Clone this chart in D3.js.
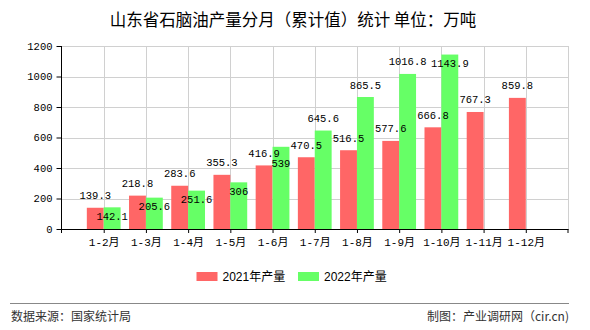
<!DOCTYPE html>
<html><head><meta charset="utf-8">
<script src="https://cdn.jsdelivr.net/npm/d3@7/dist/d3.min.js"></script>
<style>
html,body{margin:0;padding:0;background:#fff;}
svg{display:block;}
</style></head>
<body><div id="chart"></div>
<script>
const categories = ["1-2月","1-3月","1-4月","1-5月","1-6月","1-7月","1-8月","1-9月","1-10月","1-11月","1-12月"];
const values2021 = [139.3,218.8,283.6,355.3,416.9,470.5,516.5,577.6,666.8,767.3,859.8];
const values2022 = [142.1,205.6,251.6,306,539,645.6,865.5,1016.8,1143.9,null,null];
const yTicks = [0,200,400,600,800,1000,1200];
const seriesNames = ["2021年产量","2022年产量"];
const labelPlacement2022 = ["in","in","in","in","in","top","top","top","in","top","top"];
const titleText = "山东省石脑油产量分月（累计值）统计 单位：万吨";
const sourceText = "数据来源：国家统计局";
const creditText = "制图：产业调研网（cir.cn)";

(function () {
const W = 590, H = 330;
const colors = ["#ff6666","#66ff66"];
const pLeft = 61.5, pRight = 568, pTop = 46, pBottom = 229;
const step = (pRight - pLeft) / (categories.length + 1);
const numFont = "'Liberation Mono','DejaVu Sans Mono',monospace";
const cjkFont = "'Liberation Mono','Noto Sans CJK SC',monospace";
const charW = 6.3;

const svg = d3.select("#chart").append("svg").attr("width", W).attr("height", H);

const x = d3.scalePoint().domain(categories).range([pLeft + step, pRight - step]);
const y = d3.scaleLinear().domain([0, 1200]).range([pBottom, pTop]);
const barW = step * 0.4;

// title
svg.append("text").attr("x", 293).attr("y", 26).attr("text-anchor", "middle")
  .attr("font-family", "'Noto Sans CJK SC',sans-serif").attr("font-size", 16.5)
  .attr("fill", "#000").text(titleText);

// grid
const grid = svg.append("g");
grid.selectAll("line.h").data(yTicks.filter(d => d > 0)).join("line")
  .attr("x1", pLeft).attr("x2", pRight)
  .attr("y1", d => Math.round(y(d)) + 0.5).attr("y2", d => Math.round(y(d)) + 0.5)
  .attr("stroke", "#d0d0d0").attr("stroke-width", 1);
grid.selectAll("line.v").data(categories).join("line")
  .attr("x1", d => Math.round(x(d)) + 0.5).attr("x2", d => Math.round(x(d)) + 0.5)
  .attr("y1", pTop).attr("y2", pBottom)
  .attr("stroke", "#d0d0d0").attr("stroke-width", 1);
grid.append("line").attr("x1", pRight + 0.5).attr("x2", pRight + 0.5).attr("y1", pTop).attr("y2", pBottom)
  .attr("stroke", "#d0d0d0");

// bars
const series = [values2021, values2022];
series.forEach((vals, si) => {
  const g = svg.append("g");
  const data = categories.map((c, i) => ({c, v: vals[i], i})).filter(d => d.v != null);
  g.selectAll("rect").data(data).join("rect")
    .attr("x", d => si === 0 ? x(d.c) - barW : x(d.c))
    .attr("width", barW)
    .attr("y", d => y(d.v))
    .attr("height", d => y(0) - y(d.v))
    .attr("fill", colors[si]);
});

// axes
const yAxis = d3.axisLeft(y).tickValues(yTicks).tickFormat(d3.format("d"))
  .tickSize(5).tickPadding(4).tickSizeOuter(0);
const gy = svg.append("g").attr("transform", `translate(${pLeft},0)`).call(yAxis);
gy.select(".domain").remove();
gy.selectAll("line").attr("stroke", "#000");
gy.selectAll("text").attr("font-family", numFont).attr("font-size", 10.5).attr("fill", "#000");
svg.append("line").attr("x1", pLeft).attr("x2", pLeft).attr("y1", pTop).attr("y2", pBottom + 0.5)
  .attr("stroke", "#000");

const xAxis = d3.axisBottom(x).tickSize(4).tickPadding(5).tickSizeOuter(0);
const gx = svg.append("g").attr("transform", `translate(0,${pBottom})`).call(xAxis);
gx.select(".domain").remove();
gx.selectAll("line").attr("stroke", "#000");
gx.selectAll("text").attr("font-family", cjkFont).attr("font-size", 11).attr("fill", "#000");
svg.append("line").attr("x1", pLeft - 0.5).attr("x2", pRight + 0.5).attr("y1", pBottom + 0.5).attr("y2", pBottom + 0.5)
  .attr("stroke", "#000");
[pLeft, pRight].forEach(px => svg.append("line").attr("x1", px).attr("x2", px)
  .attr("y1", pBottom).attr("y2", pBottom + 4).attr("stroke", "#000"));

// labels (2021 above bars; 2022 above or inside, pushed down if colliding)
const labels = [];
categories.forEach((c, i) => {
  const v1 = values2021[i];
  let redBox = null;
  if (v1 != null) {
    const cx = x(c) - barW / 2, by = y(v1) - 8.5, w = String(v1).length * charW;
    labels.push({cx, by, text: v1});
    redBox = {x0: cx - w / 2, x1: cx + w / 2, y0: by - 8, y1: by + 1};
  }
  const v2 = values2022[i];
  if (v2 != null) {
    const cx = x(c) + barW / 2, w = String(v2).length * charW;
    let by = labelPlacement2022[i] === "in" ? y(v2) + 12.5 : y(v2) - 8.5;
    if (redBox && cx - w / 2 < redBox.x1 && cx + w / 2 > redBox.x0 &&
        by - 8 < redBox.y1 && by + 1 > redBox.y0) {
      by = redBox.y1 + 9;
    }
    labels.push({cx, by, text: v2});
  }
});
svg.append("g").selectAll("text").data(labels).join("text")
  .attr("x", d => d.cx).attr("y", d => d.by)
  .attr("text-anchor", "middle")
  .attr("font-family", numFont).attr("font-size", 10.5).attr("fill", "#000")
  .text(d => d.text);

// legend
const legend = svg.append("g");
const legendX = [196.5, 298];
seriesNames.forEach((name, i) => {
  legend.append("rect").attr("x", legendX[i]).attr("y", 272).attr("width", 21).attr("height", 9)
    .attr("fill", colors[i]);
  legend.append("text").attr("x", legendX[i] + 26).attr("y", 281)
    .attr("font-family", "'Liberation Sans','Noto Sans CJK SC',sans-serif").attr("font-size", 12)
    .attr("fill", "#000").text(name);
});

// footer
svg.append("line").attr("x1", 10).attr("x2", 569).attr("y1", 303.5).attr("y2", 303.5)
  .attr("stroke", "#888").attr("stroke-width", 1);
svg.append("text").attr("x", 11).attr("y", 321)
  .attr("font-family", "'Noto Sans CJK SC',sans-serif").attr("font-size", 12)
  .attr("fill", "#333").text(sourceText);
svg.append("text").attr("x", 569).attr("y", 321).attr("text-anchor", "end")
  .attr("font-family", "'Noto Sans CJK SC',sans-serif").attr("font-size", 12)
  .attr("fill", "#333").text(creditText);
})();
</script>
</body></html>
